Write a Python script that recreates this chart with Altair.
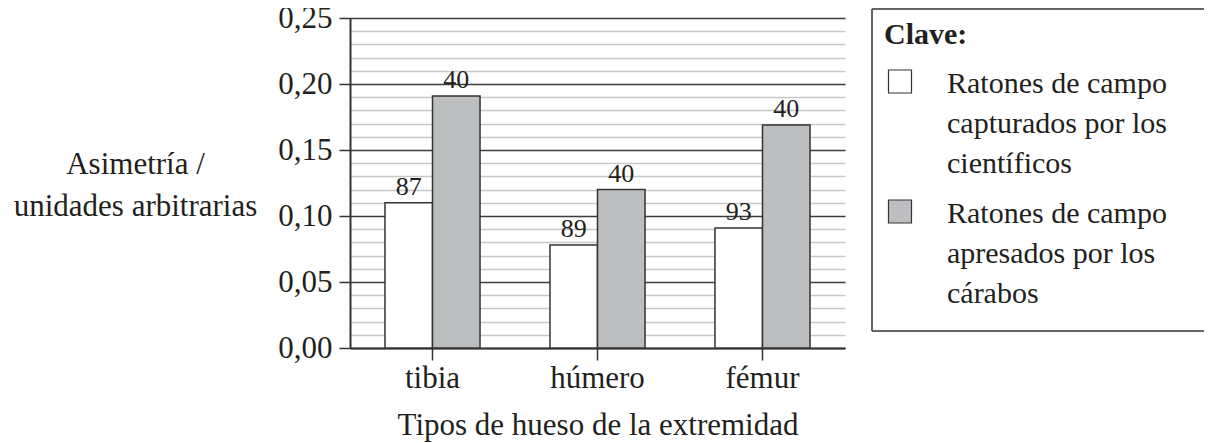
import json
import altair as alt
import pandas as pd

# ---- data ----
bones = ["tibia", "húmero", "fémur"]
series = [
    "Ratones de campo capturados por los científicos",
    "Ratones de campo apresados por los cárabos",
]
series_lines = [
    ["Ratones de campo", "capturados por los", "científicos"],
    ["Ratones de campo", "apresados por los", "cárabos"],
]
asym_captured = [0.110, 0.078, 0.091]
asym_preyed = [0.191, 0.120, 0.169]
n_captured = [87, 89, 93]
n_preyed = [40, 40, 40]
y_tick_values = [0.00, 0.01, 0.02, 0.03, 0.04, 0.05, 0.06, 0.07, 0.08, 0.09,
                 0.10, 0.11, 0.12, 0.13, 0.14, 0.15, 0.16, 0.17, 0.18, 0.19,
                 0.20, 0.21, 0.22, 0.23, 0.24, 0.25]
colors = ["#ffffff", "#bcbec0"]

rows = []
for i, b in enumerate(bones):
    rows.append({"bone": b, "series": series[0], "value": asym_captured[i], "n": n_captured[i]})
    rows.append({"bone": b, "series": series[1], "value": asym_preyed[i], "n": n_preyed[i]})
df = pd.DataFrame(rows)

FONT = "Liberation Serif"
TXT = "#231f20"
LINE = "#333333"
MAJOR = "abs(round(datum.value*100) % 5) == 0"

legend_expr = (
    f"datum.label == {json.dumps(series[0], ensure_ascii=False)} ? "
    f"{json.dumps(series_lines[0], ensure_ascii=False)} : "
    f"{json.dumps(series_lines[1], ensure_ascii=False)}"
)

x_enc = alt.X(
    "bone:N",
    sort=bones,
    scale=alt.Scale(paddingInner=0.424, paddingOuter=0.212),
    axis=alt.Axis(
        title="Tipos de hueso de la extremidad",
        labelAngle=0,
        labelFont=FONT, labelFontSize=31, labelColor=TXT, labelPadding=3,
        tickColor=LINE, tickSize=12, tickWidth=1.5,
        domainColor=LINE, domainWidth=2,
        titleFont=FONT, titleFontSize=31, titleFontWeight="normal", titleColor=TXT,
        titleY=77, titleBaseline="middle",
        grid=False,
    ),
)
xoff_enc = alt.XOffset("series:N", sort=series, scale=alt.Scale(paddingInner=0, paddingOuter=0))
y_axis = alt.Axis(
    values=y_tick_values,
    tickCount=40,
    title=["Asimetría /", "unidades arbitrarias"],
    titleAngle=0, titleAlign="center", titleBaseline="middle",
    titleX=-215, titleY=146, titleLineHeight=42,
    titleFont=FONT, titleFontSize=31, titleFontWeight="normal", titleColor=TXT,
    labelExpr=f"{MAJOR} ? replace(format(datum.value, '.2f'), '.', ',') : ''",
    labelFont=FONT, labelFontSize=31, labelColor=TXT, labelPadding=7,
    labelOverlap=False, labelFlush=False,
    grid=True,
    gridColor={"condition": {"test": MAJOR, "value": "#3c3c3c"}, "value": "#c8c8c8"},
    gridWidth=1.5,
    tickColor={"condition": {"test": MAJOR, "value": LINE}, "value": "transparent"},
    tickSize=11, tickWidth=1.5,
    domainColor=LINE, domainWidth=2,
)
y_enc = alt.Y("value:Q", scale=alt.Scale(domain=[0, 0.25], nice=False), axis=y_axis)

bars = alt.Chart(df).mark_bar(stroke=LINE, strokeWidth=1.5).encode(
    x=x_enc,
    xOffset=xoff_enc,
    y=y_enc,
    fill=alt.Fill(
        "series:N",
        sort=series,
        scale=alt.Scale(domain=series, range=colors),
        legend=alt.Legend(
            title="Clave:", orient="none", legendX=534, legendY=2,
            titleFont=FONT, titleFontSize=30, titleFontWeight="bold", titleColor=TXT,
            titlePadding=28,
            labelFont=FONT, labelFontSize=30, labelColor=TXT, labelLimit=400,
            labelExpr=legend_expr, labelOffset=32, labelBaseline="alphabetic",
            symbolType="M-1,-2H1V0H-1Z", symbolSize=529, symbolStrokeColor=LINE,
            symbolStrokeWidth=1.2, symbolOffset=1,
            rowPadding=18, padding=0,
        ),
    ),
)

labels = alt.Chart(df).mark_text(
    baseline="alphabetic", dy=-8, font=FONT, fontSize=26, color=TXT
).encode(
    x=x_enc,
    xOffset=xoff_enc,
    y=y_enc,
    text=alt.Text("n:Q"),
)

# legend frame: open on the right (runs off the page edge like the reference)
frame_src = alt.Chart(pd.DataFrame({"k": [0]}))
frame_top = frame_src.mark_rule(color=LINE, strokeWidth=1.5).encode(
    x=alt.value(522), x2=alt.value(900), y=alt.value(-9)
)
frame_left = frame_src.mark_rule(color=LINE, strokeWidth=1.5).encode(
    x=alt.value(522), y=alt.value(-9), y2=alt.value(313)
)
frame_bottom = frame_src.mark_rule(color=LINE, strokeWidth=1.5).encode(
    x=alt.value(522), x2=alt.value(900), y=alt.value(313)
)

chart = alt.layer(bars, labels, frame_top, frame_left, frame_bottom).properties(
    width=495,
    height=330,
    autosize=alt.AutoSizeParams(type="none"),
    padding={"left": 342, "top": 10, "right": 359, "bottom": 95},
).configure(
    style={"guide-label": {"lineHeight": 40}}
).configure_view(strokeWidth=0)

chart.save("out.html", embed_options={"renderer": "svg", "actions": False})
